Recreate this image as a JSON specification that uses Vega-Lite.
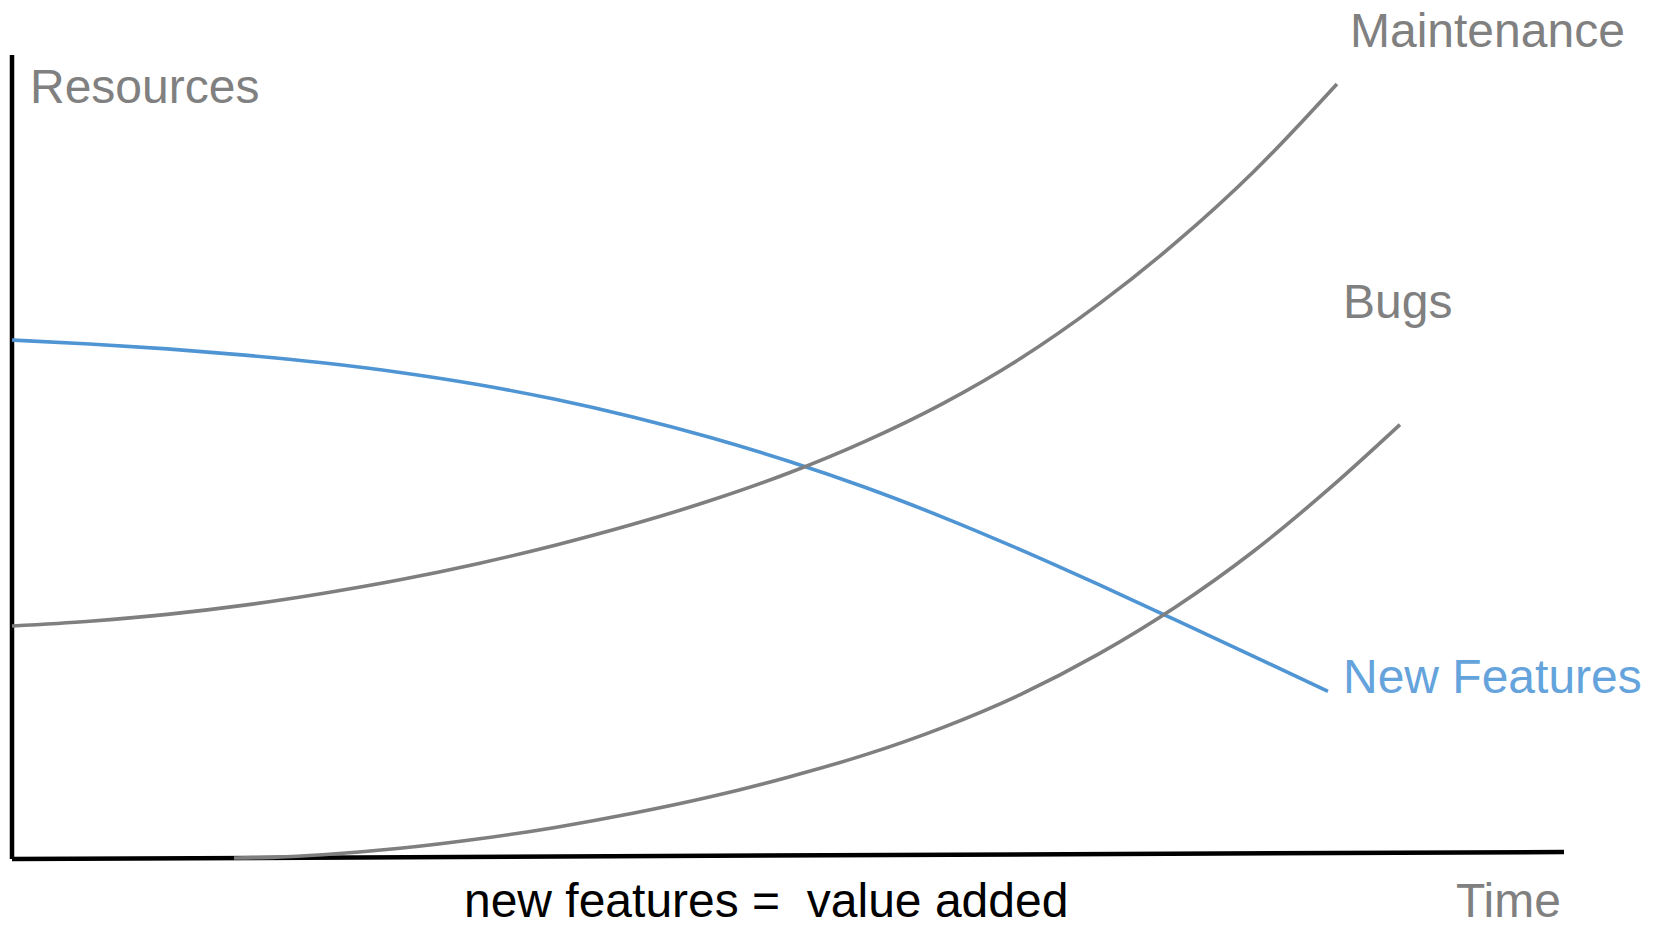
{
  "$schema": "https://vega.github.io/schema/vega-lite/v6.json",
  "autosize": {"type": "none"},
  "padding": {"left": 12, "top": 55, "right": 93, "bottom": 67},
  "width": 1552,
  "height": 804,
  "background": "white",
  "config": {"view": {"stroke": null}},
  "datasets": {
    "curves": [
      {"series": "New Features", "t": 0, "r": 64.55},
      {"series": "New Features", "t": 5, "r": 64.05},
      {"series": "New Features", "t": 10, "r": 63.45},
      {"series": "New Features", "t": 15, "r": 62.67},
      {"series": "New Features", "t": 20, "r": 61.72},
      {"series": "New Features", "t": 25, "r": 60.52},
      {"series": "New Features", "t": 30, "r": 59.02},
      {"series": "New Features", "t": 35, "r": 57.17},
      {"series": "New Features", "t": 40, "r": 54.97},
      {"series": "New Features", "t": 45, "r": 52.42},
      {"series": "New Features", "t": 50, "r": 49.5},
      {"series": "New Features", "t": 55, "r": 46.2},
      {"series": "New Features", "t": 60, "r": 42.5},
      {"series": "New Features", "t": 65, "r": 38.45},
      {"series": "New Features", "t": 70, "r": 34.15},
      {"series": "New Features", "t": 75, "r": 29.7},
      {"series": "New Features", "t": 80, "r": 25.2},
      {"series": "New Features", "t": 84.79, "r": 20.85},
      {"series": "Maintenance", "t": 0, "r": 28.98},
      {"series": "Maintenance", "t": 5, "r": 29.58},
      {"series": "Maintenance", "t": 10, "r": 30.43},
      {"series": "Maintenance", "t": 15, "r": 31.58},
      {"series": "Maintenance", "t": 20, "r": 33.03},
      {"series": "Maintenance", "t": 25, "r": 34.73},
      {"series": "Maintenance", "t": 30, "r": 36.73},
      {"series": "Maintenance", "t": 35, "r": 39.03},
      {"series": "Maintenance", "t": 40, "r": 41.63},
      {"series": "Maintenance", "t": 45, "r": 44.58},
      {"series": "Maintenance", "t": 50, "r": 47.98},
      {"series": "Maintenance", "t": 55, "r": 51.98},
      {"series": "Maintenance", "t": 60, "r": 56.68},
      {"series": "Maintenance", "t": 65, "r": 62.28},
      {"series": "Maintenance", "t": 70, "r": 68.98},
      {"series": "Maintenance", "t": 75, "r": 76.68},
      {"series": "Maintenance", "t": 80, "r": 85.48},
      {"series": "Maintenance", "t": 85.37, "r": 96.4},
      {"series": "Bugs", "t": 14.3, "r": 0.12},
      {"series": "Bugs", "t": 17, "r": 0.23},
      {"series": "Bugs", "t": 20, "r": 0.53},
      {"series": "Bugs", "t": 25, "r": 1.33},
      {"series": "Bugs", "t": 30, "r": 2.48},
      {"series": "Bugs", "t": 35, "r": 3.93},
      {"series": "Bugs", "t": 40, "r": 5.68},
      {"series": "Bugs", "t": 45, "r": 7.73},
      {"series": "Bugs", "t": 50, "r": 10.18},
      {"series": "Bugs", "t": 55, "r": 12.98},
      {"series": "Bugs", "t": 60, "r": 16.38},
      {"series": "Bugs", "t": 65, "r": 20.48},
      {"series": "Bugs", "t": 70, "r": 25.48},
      {"series": "Bugs", "t": 75, "r": 31.38},
      {"series": "Bugs", "t": 80, "r": 38.28},
      {"series": "Bugs", "t": 85, "r": 46.28},
      {"series": "Bugs", "t": 89.43, "r": 54.03}
    ],
    "axes": [
      {"axis": "Resources", "t": 0, "r": 0, "t2": 0, "r2": 100},
      {"axis": "Time", "t": 0, "r": 0, "t2": 100, "r2": 0.87}
    ],
    "labels": [
      {"label": "Resources", "kind": "name", "t": 1.16, "r": 94.03},
      {"label": "Maintenance", "kind": "name", "t": 86.21, "r": 101.0},
      {"label": "Bugs", "kind": "name", "t": 85.76, "r": 67.29},
      {"label": "New Features", "kind": "feature", "t": 85.76, "r": 20.65},
      {"label": "Time", "kind": "name", "t": 93.04, "r": -7.2},
      {"label": "new features =\u00a0 value added", "kind": "caption", "t": 29.12, "r": -7.2}
    ]
  },
  "layer": [
    {
      "data": {"name": "axes"},
      "mark": {"type": "rule", "color": "black", "strokeWidth": 4.5, "strokeCap": "butt"},
      "encoding": {
        "x": {"field": "t", "type": "quantitative", "scale": {"domain": [0, 100], "nice": false, "zero": false}, "axis": null},
        "y": {"field": "r", "type": "quantitative", "scale": {"domain": [0, 100], "nice": false, "zero": false}, "axis": null},
        "x2": {"field": "t2"},
        "y2": {"field": "r2"}
      }
    },
    {
      "data": {"name": "curves"},
      "mark": {"type": "line", "interpolate": "monotone", "strokeWidth": 3.6, "strokeCap": "butt"},
      "encoding": {
        "x": {"field": "t", "type": "quantitative", "axis": null},
        "y": {"field": "r", "type": "quantitative", "axis": null},
        "detail": {"field": "series"},
        "color": {"field": "series", "type": "nominal", "legend": null,
          "scale": {"domain": ["New Features", "Maintenance", "Bugs"], "range": ["#4f95d4", "#7f7f7f", "#7f7f7f"]}}
      }
    },
    {
      "data": {"name": "labels"},
      "mark": {"type": "text", "align": "left", "baseline": "alphabetic", "font": "Liberation Sans", "fontSize": 48},
      "encoding": {
        "x": {"field": "t", "type": "quantitative", "axis": null},
        "y": {"field": "r", "type": "quantitative", "axis": null},
        "text": {"field": "label"},
        "color": {"field": "kind", "type": "nominal", "legend": null,
          "scale": {"domain": ["name", "feature", "caption"], "range": ["#808080", "#64a3dc", "#000000"]}}
      }
    }
  ],
  "resolve": {"scale": {"color": "independent"}}
}
